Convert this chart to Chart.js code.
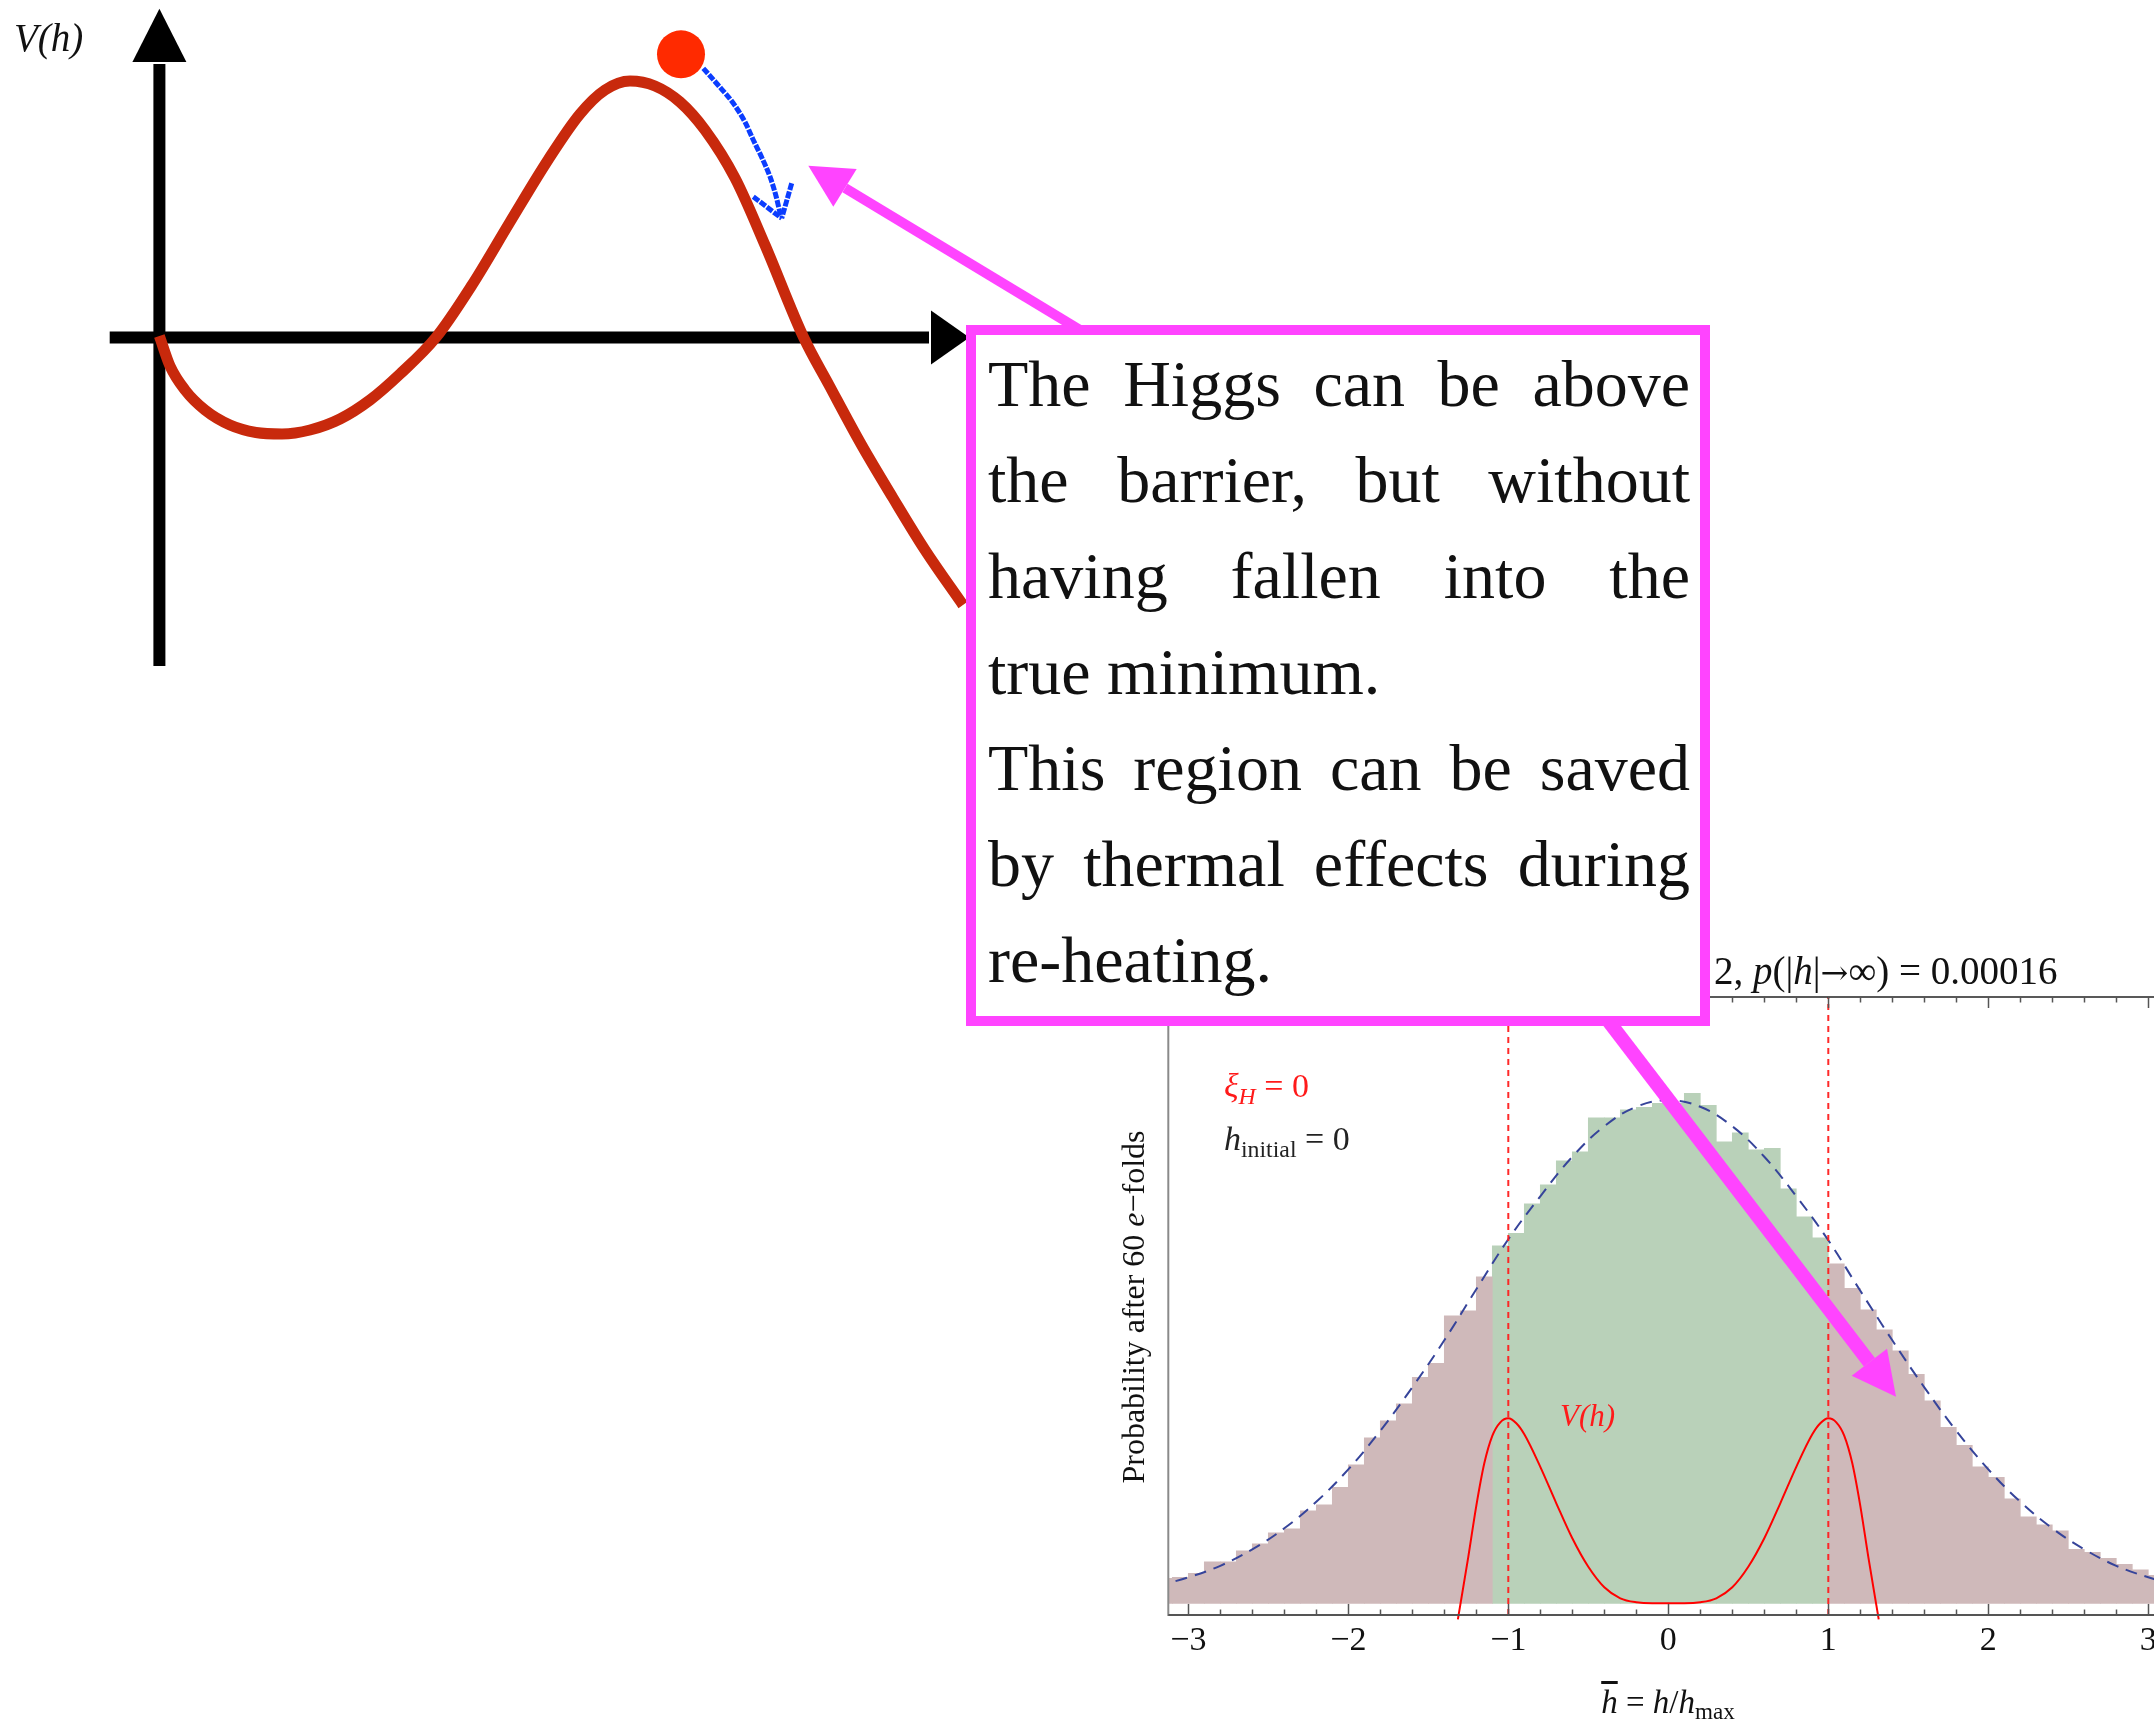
<!DOCTYPE html>
<html>
<head>
<meta charset="utf-8">
<script src="https://cdn.jsdelivr.net/npm/chart.js@4.4.1/dist/chart.umd.min.js"></script>
<style>
html,body{margin:0;padding:0;width:2154px;height:1719px;overflow:hidden;background:#fff;}
canvas{position:absolute;display:block;}
#potential{left:0;top:0;z-index:1;}
#hist{left:1100px;top:940px;z-index:1;}
#arrows{position:absolute;left:0;top:0;z-index:3;}
.t{position:absolute;font-family:'Liberation Serif','Times New Roman',serif;white-space:nowrap;line-height:1;color:#111;z-index:2;}
.t sub{font-size:70%;vertical-align:-0.28em;line-height:0;}
.arr{font-family:'DejaVu Serif',serif;font-size:85%;}
#box{position:absolute;left:966px;top:325px;width:744px;height:701px;box-sizing:border-box;border:10px solid rgb(255,68,255);background:#fff;padding:1px 10px 0 12px;font-family:'Liberation Serif','Times New Roman',serif;font-size:66px;color:#111;z-index:4;}
#box div{height:96px;line-height:96px;text-align:justify;text-align-last:justify;}
#box div.l{text-align:left;text-align-last:left;}
</style>
</head>
<body>
<canvas id="potential" width="1000" height="700"></canvas>
<canvas id="hist" width="1100" height="779"></canvas>

<div class="t" style="left:14px;top:18px;font-size:39px;font-style:italic;">V(h)</div>

<div class="t" style="left:1714px;top:951px;font-size:39px;">2, <i>p</i>(|<i>h</i>|<span class="arr">→</span>∞) = 0.00016</div>
<div class="t" style="left:1224px;top:1069px;font-size:34px;color:#ff1a1a;"><i>ξ</i><sub><i>H</i></sub> = 0</div>
<div class="t" style="left:1224px;top:1122px;font-size:34px;color:#222;"><i>h</i><sub>initial</sub> = 0</div>
<div class="t" style="left:1560px;top:1400px;font-size:31px;color:#ff1a1a;font-style:italic;">V(h)</div>
<div class="t" style="left:1668px;top:1686px;font-size:33px;transform:translateX(-50%);"><i style="text-decoration:overline;">h</i> = <i>h</i>/<i>h</i><sub>max</sub></div>
<div class="t" style="left:1133px;top:1307px;font-size:32px;transform:translate(-50%,-50%) rotate(-90deg);">Probability after 60 <i>e</i>−folds</div>

<svg id="arrows" width="2154" height="1719" viewBox="0 0 2154 1719">
  <line x1="845" y1="188" x2="1085" y2="333" stroke="rgb(255,68,255)" stroke-width="10"/>
  <polygon points="808.3,165.7 856.7,169 833.3,206.7" fill="rgb(255,68,255)"/>
  <line x1="1600" y1="1010" x2="1869.4" y2="1362.2" stroke="rgb(255,68,255)" stroke-width="14"/>
  <polygon points="1896,1396.7 1851.7,1375.7 1887,1348.7" fill="rgb(255,68,255)"/>
</svg>

<div id="box">
  <div>The Higgs can be above</div>
  <div>the barrier, but without</div>
  <div>having fallen into the</div>
  <div class="l">true minimum.</div>
  <div>This region can be saved</div>
  <div>by thermal effects during</div>
  <div class="l">re-heating.</div>
</div>

<script>
const FONT = "'Liberation Serif','Times New Roman',serif";
Chart.defaults.font.family = FONT;
Chart.defaults.animation = false;

/* ---------- cartoon potential (top left) ---------- */
const curveX = [0, 0.106, 0.256, 0.456, 0.706, 0.966, 1.226, 1.506, 1.806, 2.106, 2.406, 2.766, 3.126, 3.506, 3.886, 4.206, 4.456, 4.706, 4.956, 5.206, 5.456, 5.756, 6.056, 6.442, 6.696, 7.016, 7.336, 7.656, 8.036];
const curveY = [0.014, -0.286, -0.526, -0.726, -0.876, -0.951, -0.966, -0.926, -0.816, -0.626, -0.366, 0, 0.524, 1.154, 1.774, 2.234, 2.474, 2.564, 2.514, 2.354, 2.074, 1.594, 0.924, 0, -0.476, -1.066, -1.606, -2.126, -2.676];
const ballX = [5.216];
const ballY = [2.831];
const trailX = [5.439, 5.586, 5.739, 5.856, 5.939, 6.026, 6.106, 6.166, 6.211];
const trailY = [2.691, 2.524, 2.341, 2.154, 1.974, 1.794, 1.607, 1.414, 1.224];
const headLX = [5.939, 6.223];
const headLY = [1.407, 1.191];
const headRX = [6.323, 6.223];
const headRY = [1.541, 1.191];
const cartoonAxisV = {x: 0, yFrom: -3.286, yTo: 2.754, yTip: 3.287};
const cartoonAxisH = {y: 0, xFrom: -0.497, xTo: 7.716, xTip: 8.1};

const zip = (xs, ys) => xs.map((x, i) => ({x: x, y: ys[i]}));

const cartoonAxes = {
  id: 'cartoonAxes',
  beforeDatasetsDraw(chart) {
    const {ctx, scales: {x, y}} = chart;
    const hw = 27;
    ctx.save();
    ctx.strokeStyle = '#000';
    ctx.fillStyle = '#000';
    ctx.lineWidth = 12;
    ctx.lineCap = 'butt';
    const vx = x.getPixelForValue(cartoonAxisV.x);
    ctx.beginPath();
    ctx.moveTo(vx, y.getPixelForValue(cartoonAxisV.yFrom));
    ctx.lineTo(vx, y.getPixelForValue(cartoonAxisV.yTo) + 2);
    ctx.stroke();
    ctx.beginPath();
    ctx.moveTo(vx, y.getPixelForValue(cartoonAxisV.yTip));
    ctx.lineTo(vx - hw, y.getPixelForValue(cartoonAxisV.yTo));
    ctx.lineTo(vx + hw, y.getPixelForValue(cartoonAxisV.yTo));
    ctx.closePath();
    ctx.fill();
    const hy = y.getPixelForValue(cartoonAxisH.y);
    ctx.beginPath();
    ctx.moveTo(x.getPixelForValue(cartoonAxisH.xFrom), hy);
    ctx.lineTo(x.getPixelForValue(cartoonAxisH.xTo) - 2, hy);
    ctx.stroke();
    ctx.beginPath();
    ctx.moveTo(x.getPixelForValue(cartoonAxisH.xTip), hy);
    ctx.lineTo(x.getPixelForValue(cartoonAxisH.xTo), hy - hw);
    ctx.lineTo(x.getPixelForValue(cartoonAxisH.xTo), hy + hw);
    ctx.closePath();
    ctx.fill();
    ctx.restore();
  }
};

new Chart(document.getElementById('potential'), {
  type: 'scatter',
  data: {
    datasets: [
      {data: zip(ballX, ballY), pointRadius: 24, pointBackgroundColor: '#FF2A00', pointBorderWidth: 0, showLine: false, order: 0},
      {data: zip(curveX, curveY), showLine: true, borderColor: '#C8290C', borderWidth: 11, pointRadius: 0, cubicInterpolationMode: 'monotone', order: 3},
      {data: zip(trailX, trailY), showLine: true, borderColor: '#0B3DFF', borderWidth: 5, borderDash: [7, 1.5], pointRadius: 0, cubicInterpolationMode: 'monotone', order: 1},
      {data: zip(headLX, headLY), showLine: true, borderColor: '#0B3DFF', borderWidth: 5, borderDash: [7, 1.5], pointRadius: 0, order: 1},
      {data: zip(headRX, headRY), showLine: true, borderColor: '#0B3DFF', borderWidth: 5, borderDash: [7, 1.5], pointRadius: 0, order: 1}
    ]
  },
  options: {
    responsive: false, animation: false, events: [],
    layout: {padding: 0, autoPadding: false},
    plugins: {legend: {display: false}, tooltip: {enabled: false}},
    scales: {
      x: {type: 'linear', min: -1.594, max: 8.406, display: false},
      y: {type: 'linear', min: -3.626, max: 3.374, display: false}
    }
  },
  plugins: [cartoonAxes]
});

/* ---------- histogram (bottom right) ---------- */
const leftBinCenters = [-3.15, -3.05, -2.95, -2.85, -2.75, -2.65, -2.55, -2.45, -2.35, -2.25, -2.15, -2.05, -1.95, -1.85, -1.75, -1.65, -1.55, -1.45, -1.35, -1.25, -1.15];
const leftBinValues = [0.050, 0.052, 0.060, 0.083, 0.083, 0.105, 0.119, 0.141, 0.149, 0.185, 0.197, 0.232, 0.277, 0.331, 0.365, 0.399, 0.452, 0.480, 0.575, 0.585, 0.653];
const greenBinCenters = [-1.05, -0.95, -0.85, -0.75, -0.65, -0.55, -0.45, -0.35, -0.25, -0.15, -0.05, 0.05, 0.15, 0.25, 0.35, 0.45, 0.55, 0.65, 0.75, 0.85, 0.95];
const greenBinValues = [0.715, 0.740, 0.799, 0.837, 0.885, 0.903, 0.971, 0.971, 0.987, 0.992, 1.000, 1.000, 1.020, 0.996, 0.923, 0.941, 0.907, 0.910, 0.829, 0.773, 0.731];
const rightBinCenters = [1.05, 1.15, 1.25, 1.35, 1.45, 1.55, 1.65, 1.75, 1.85, 1.95, 2.05, 2.15, 2.25, 2.35, 2.45, 2.55, 2.65, 2.75, 2.85, 2.95, 3.05];
const rightBinValues = [0.679, 0.630, 0.587, 0.547, 0.505, 0.458, 0.405, 0.352, 0.316, 0.273, 0.252, 0.209, 0.173, 0.157, 0.145, 0.108, 0.102, 0.090, 0.078, 0.067, 0.056];

const gaussX = [-3.2, -3.0, -2.8, -2.6, -2.4, -2.2, -2.0, -1.8, -1.6, -1.4, -1.2, -1.0, -0.8, -0.6, -0.4, -0.2, 0, 0.2, 0.4, 0.6, 0.8, 1.0, 1.2, 1.4, 1.6, 1.8, 2.0, 2.2, 2.4, 2.6, 2.8, 3.0, 3.2];
const gaussY = [0.034, 0.052, 0.075, 0.108, 0.150, 0.203, 0.268, 0.345, 0.432, 0.526, 0.628, 0.728, 0.814, 0.893, 0.954, 0.993, 1.006, 0.993, 0.954, 0.893, 0.814, 0.726, 0.625, 0.526, 0.432, 0.345, 0.268, 0.203, 0.150, 0.108, 0.075, 0.052, 0.034];

const potX = [-1.315, -1.30, -1.25, -1.20, -1.15, -1.10, -1.05, -1.00, -0.95, -0.90, -0.80, -0.70, -0.60, -0.50, -0.40, -0.30, -0.20, -0.10, 0, 0.10, 0.20, 0.30, 0.40, 0.50, 0.60, 0.70, 0.80, 0.90, 0.95, 1.00, 1.05, 1.10, 1.15, 1.20, 1.25, 1.30, 1.315];
const potY = [-0.032, -0.003, 0.093, 0.195, 0.280, 0.335, 0.362, 0.370, 0.360, 0.338, 0.273, 0.200, 0.130, 0.073, 0.032, 0.010, 0.002, 0.000, 0.000, 0.000, 0.002, 0.010, 0.032, 0.073, 0.130, 0.200, 0.273, 0.338, 0.360, 0.370, 0.362, 0.335, 0.280, 0.195, 0.093, -0.003, -0.032];

const markerLines = [-1, 1];
const xTickValues = [-3, -2, -1, 0, 1, 2, 3];
const xTickLabels = ['\u22123', '\u22122', '\u22121', '0', '1', '2', '3'];
const X_MIN = -3.125, X_MAX = 3.125;
const Y_MIN = -0.0234, Y_MAX = 1.2126;

const frame = {
  id: 'frame',
  afterDatasetsDraw(chart) {
    const {ctx, chartArea: a, scales: {x}} = chart;
    ctx.save();
    ctx.lineCap = 'butt';
    ctx.strokeStyle = '#8a8a8a'; ctx.lineWidth = 2;
    ctx.beginPath(); ctx.moveTo(a.left, a.top); ctx.lineTo(a.left, a.bottom + 1); ctx.stroke();
    ctx.strokeStyle = '#222'; ctx.lineWidth = 1.6;
    ctx.beginPath(); ctx.moveTo(a.left, a.top); ctx.lineTo(a.right, a.top); ctx.stroke();
    ctx.strokeStyle = '#555'; ctx.lineWidth = 2;
    ctx.beginPath(); ctx.moveTo(a.left, a.bottom); ctx.lineTo(a.right, a.bottom); ctx.stroke();
    ctx.strokeStyle = '#555'; ctx.lineWidth = 1.5;
    for (let k = -15; k <= 15; k++) {
      const v = k / 5;
      const px = Math.round(x.getPixelForValue(v)) + 0.5;
      const len = (k % 5 === 0) ? 11 : 5.5;
      ctx.beginPath(); ctx.moveTo(px, a.bottom); ctx.lineTo(px, a.bottom - len); ctx.stroke();
      ctx.beginPath(); ctx.moveTo(px, a.top); ctx.lineTo(px, a.top + len); ctx.stroke();
    }
    ctx.restore();
  }
};

const barCommon = {type: 'bar', grouped: false, barPercentage: 1, categoryPercentage: 1, borderWidth: 0, order: 10};

new Chart(document.getElementById('hist'), {
  type: 'bar',
  data: {
    datasets: [
      ...markerLines.map(m => ({type: 'line', data: [{x: m, y: Y_MIN}, {x: m, y: Y_MAX}], borderColor: 'rgba(255,30,30,0.95)', borderWidth: 2, borderDash: [6, 5], pointRadius: 0, order: 1})),
      {type: 'line', data: zip(gaussX, gaussY), borderColor: '#36449A', borderWidth: 2, borderDash: [12, 8], pointRadius: 0, tension: 0.4, order: 2},
      {type: 'line', data: zip(potX, potY), borderColor: '#FF0000', borderWidth: 2, pointRadius: 0, cubicInterpolationMode: 'monotone', order: 3, clip: {left: 0, top: 0, right: 0, bottom: 6}},
      Object.assign({data: zip(leftBinCenters, leftBinValues), backgroundColor: '#CFB9BA'}, barCommon),
      Object.assign({data: zip(greenBinCenters, greenBinValues), backgroundColor: '#B9D1B9'}, barCommon),
      Object.assign({data: zip(rightBinCenters, rightBinValues), backgroundColor: '#CFB9BA'}, barCommon)
    ]
  },
  options: {
    responsive: false, animation: false, events: [],
    layout: {padding: {left: 68.3, top: 57, right: 31.7, bottom: 0}, autoPadding: false},
    plugins: {legend: {display: false}, tooltip: {enabled: false}},
    scales: {
      x: {
        type: 'linear', min: X_MIN, max: X_MAX, offset: false,
        grid: {display: false, offset: false, drawTicks: false},
        border: {display: false},
        ticks: {font: {size: 34, family: FONT}, color: '#111', padding: 6, maxRotation: 0, autoSkip: false,
          callback: (v) => { const i = xTickValues.indexOf(v); return i >= 0 ? xTickLabels[i] : ''; }},
        afterBuildTicks: (s) => { s.ticks = xTickValues.map(v => ({value: v})); },
        afterFit: (s) => { s.height = 104; }
      },
      y: {type: 'linear', min: Y_MIN, max: Y_MAX, display: false}
    }
  },
  plugins: [frame]
});
</script>
</body>
</html>
